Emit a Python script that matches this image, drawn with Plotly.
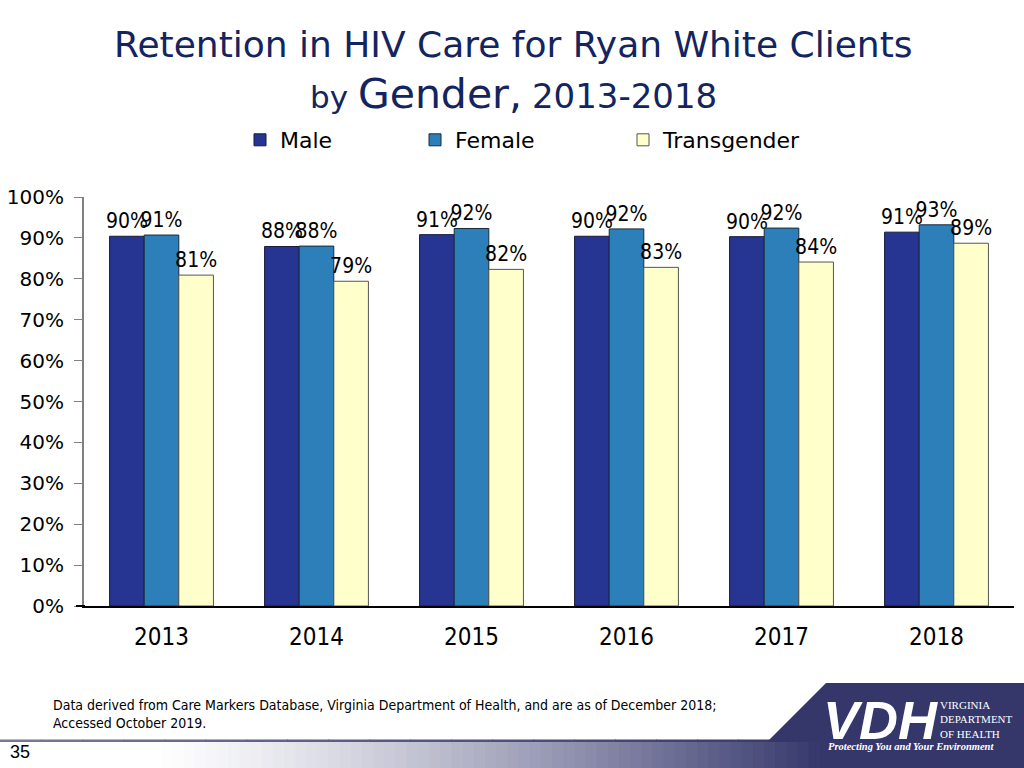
import plotly.graph_objects as go

years = ["2013", "2014", "2015", "2016", "2017", "2018"]
male = [90.4, 87.9, 90.8, 90.4, 90.3, 91.4]
female = [90.7, 88.0, 92.3, 92.2, 92.4, 93.2]
transgender = [80.9, 79.4, 82.3, 82.8, 84.1, 88.7]
y_ticks = [0, 10, 20, 30, 40, 50, 60, 70, 80, 90, 100]
y_tick_text = [f"{v}%" for v in y_ticks]

NAVY = "#35376B"
TITLE_C = "#13245E"
COND = "DejaVu Sans Condensed"
SANS = "DejaVu Sans"

L, R, T, B = 84, 1014, 197, 606
W, H = R - L, B - T


def px(x):
    return (x - L) / W


def py(y):
    return (B - y) / H


fig = go.Figure()
series = [
    ("Male", male, "#263591", "#1a1a3a", "legend", 240),
    ("Female", female, "#2C7FB8", "#1a2a3a", "legend2", 415),
    ("Transgender", transgender, "#FFFFCC", "#555555", "legend3", 623),
]
for name, vals, color, line, leg, _ in series:
    fig.add_trace(go.Bar(
        x=years, y=vals, name=name, legend=leg,
        marker=dict(color=color, line=dict(color=line, width=1)),
        texttemplate="%{y:.0f}%", textposition="outside",
        textfont=dict(family=COND, size=21, color="black"),
        constraintext="none", cliponaxis=False,
    ))

legends = {}
for i, (name, vals, color, line, leg, lx) in enumerate(series):
    legends[leg] = dict(
        x=px(lx), y=py(140), xanchor="left", yanchor="middle",
        orientation="h", bgcolor="rgba(0,0,0,0)",
        font=dict(family=SANS, size=22, color="black"),
        itemwidth=30,
    )

shapes = []
x0, x1 = 150, 820
n = 60


def lerp(c1, c2, t):
    return "rgb(%d,%d,%d)" % tuple(round(a + (b - a) * t) for a, b in zip(c1, c2))


white = (255, 255, 255)
navy = (53, 55, 107)
grey_line = (120, 120, 150)
for i in range(n):
    xa = x0 + (x1 - x0) * i / n
    xb = x0 + (x1 - x0) * (i + 1) / n + 0.8
    t = ((i + 0.5) / n) ** 1.3
    shapes.append(dict(type="rect", xref="paper", yref="paper",
                       x0=px(xa), x1=px(xb), y0=py(768), y1=py(742),
                       fillcolor=lerp(white, navy, t), line=dict(width=0), layer="below"))
shapes.append(dict(type="rect", xref="paper", yref="paper",
                   x0=px(x1), x1=px(1024), y0=py(768), y1=py(742),
                   fillcolor=NAVY, line=dict(width=0), layer="below"))
for i in range(20):
    xa = 820 * i / 20
    xb = 820 * (i + 1) / 20 + 0.8
    t = (i + 0.5) / 20
    shapes.append(dict(type="rect", xref="paper", yref="paper",
                       x0=px(xa), x1=px(xb), y0=py(742), y1=py(739.5),
                       fillcolor=lerp(grey_line, navy, t), line=dict(width=0), layer="below"))
path = "M {},{} L {},{} L {},{} L {},{} Z".format(
    px(826), py(683), px(1024), py(683), px(1024), py(742), px(767), py(742))
shapes.append(dict(type="path", xref="paper", yref="paper", path=path,
                   fillcolor=NAVY, line=dict(width=0), layer="below"))
shapes.append(dict(type="line", xref="paper", yref="paper",
                   x0=px(76), x1=px(85), y0=0, y1=0,
                   line=dict(color="black", width=2)))

annotations = [
    dict(text="Retention in HIV Care for Ryan White Clients", x=px(513), y=py(44),
         xref="paper", yref="paper", showarrow=False, xanchor="center", yanchor="middle",
         font=dict(family=SANS, size=36, color=TITLE_C)),
    dict(text="by <span style='font-size:41px'>Gender,</span> <span style='font-size:34px'>2013-2018</span>",
         x=px(513), y=py(94), xref="paper", yref="paper", showarrow=False,
         xanchor="center", yanchor="middle",
         font=dict(family=SANS, size=31, color=TITLE_C)),
    dict(text="Data derived from Care Markers Database, Virginia Department of Health, and are as of December 2018;<br>Accessed October 2019.",
         x=px(51), y=py(714), xref="paper", yref="paper", showarrow=False,
         xanchor="left", yanchor="middle", align="left",
         font=dict(family=COND, size=14, color="black")),
    dict(text="35", x=px(8), y=py(752), xref="paper", yref="paper", showarrow=False,
         xanchor="left", yanchor="middle",
         font=dict(family="Liberation Sans", size=18, color="black")),
    dict(text="<b><i>VDH</i></b>", x=px(880), y=py(720), xref="paper", yref="paper",
         showarrow=False, xanchor="center", yanchor="middle",
         font=dict(family="Liberation Sans", size=54, color="white")),
    dict(text="VIRGINIA<br>DEPARTMENT<br>OF HEALTH", x=px(938), y=py(719),
         xref="paper", yref="paper", showarrow=False, xanchor="left", yanchor="middle",
         align="left", font=dict(family="Liberation Serif", size=11, color="white")),
    dict(text="<b><i>Protecting You and Your Environment</i></b>", x=px(911), y=py(746),
         xref="paper", yref="paper", showarrow=False, xanchor="center", yanchor="middle",
         font=dict(family="Liberation Serif", size=10.5, color="white")),
]

fig.update_layout(
    width=1024, height=768, autosize=False,
    margin=dict(l=L, r=1024 - R, t=T, b=768 - B, pad=0, autoexpand=False),
    paper_bgcolor="white", plot_bgcolor="white",
    barmode="group", bargap=0.33, bargroupgap=0,
    showlegend=True,
    shapes=shapes, annotations=annotations,
    xaxis=dict(type="category", showgrid=False, showline=True, linecolor="black",
               linewidth=2, ticks="", ticklabelstandoff=8, automargin=False,
               tickfont=dict(family=COND, size=24, color="black")),
    yaxis=dict(range=[0, 100], tickvals=y_ticks, ticktext=y_tick_text, showgrid=False,
               zeroline=False, showline=True, linecolor="#808080", linewidth=2,
               ticks="outside", ticklen=8, tickcolor="#808080", tickwidth=1,
               ticklabelstandoff=6, automargin=False,
               tickfont=dict(family=SANS, size=20, color="black")),
    **legends,
)

fig.write_html("out.html", config={"displayModeBar": False},
               post_script="document.body.style.margin='0';")
